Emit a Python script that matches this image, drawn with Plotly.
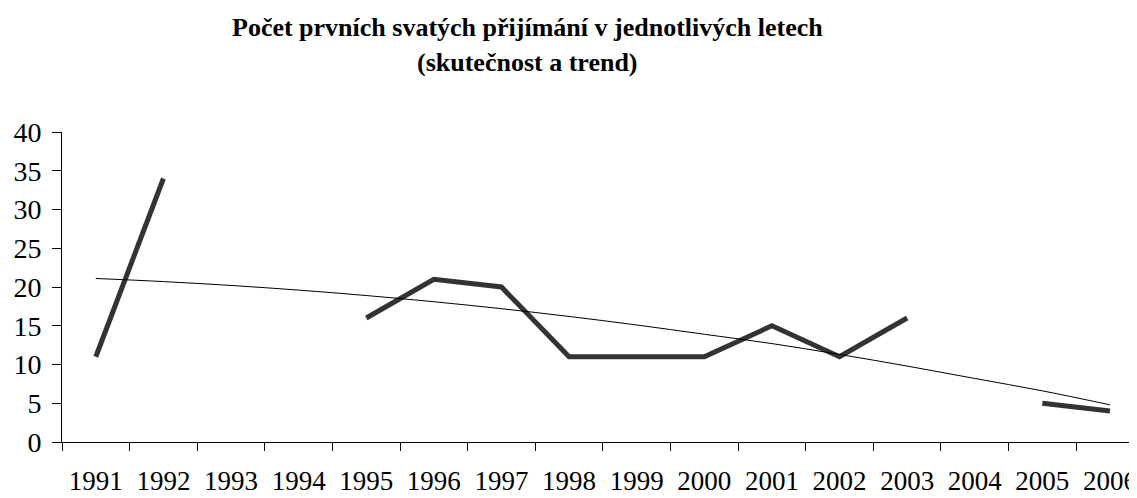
import plotly.graph_objects as go

years = ["1991", "1992", "1993", "1994", "1995", "1996", "1997", "1998",
         "1999", "2000", "2001", "2002", "2003", "2004", "2005", "2006"]
actual = [11, 34, None, None, 16, 21, 20, 11, 11, 11, 15, 11, 16, None, 5, 4]
trend = [21.1, 20.7, 20.2, 19.6, 18.9, 18.1, 17.2, 16.2, 15.1, 13.9, 12.7,
         11.3, 9.8, 8.2, 6.6, 4.8]
title_lines = ["Počet prvních svatých přijímání v jednotlivých letech",
               "(skutečnost a trend)"]

font_family = "Liberation Serif, Times New Roman, serif"

fig = go.Figure()
fig.add_trace(go.Scatter(x=years, y=actual, mode="lines", connectgaps=False,
                         line=dict(color="#333333", width=5), name="skutečnost"))
fig.add_trace(go.Scatter(x=years, y=trend, mode="lines", line_shape="spline",
                         line=dict(color="#000000", width=1), name="trend"))

for txt, yy in zip(title_lines, [1.3355, 1.2226]):
    fig.add_annotation(text="<b>" + txt + "</b>", xref="paper", yref="paper",
                       x=0.4326, y=yy, xanchor="center", yanchor="middle",
                       showarrow=False,
                       font=dict(family=font_family, size=26, color="black"))

fig.update_layout(
    width=1129, height=490,
    margin=dict(l=54, r=0, t=124, b=56),
    paper_bgcolor="white", plot_bgcolor="white",
    showlegend=False,
    font=dict(family=font_family, color="black"),
)
fig.update_xaxes(type="category", range=[-0.5, 15.4], showline=True, linecolor="black",
                 linewidth=1, ticks="outside", tickson="boundaries", ticklen=8,
                 tickcolor="black", showgrid=False, zeroline=False, automargin=False,
                 ticklabelstandoff=15,
                 tickfont=dict(family=font_family, size=27, color="black"))
fig.update_yaxes(range=[0, 40], dtick=5, showline=True, linecolor="black", linewidth=1,
                 ticks="outside", ticklen=9, tickcolor="black", showgrid=False,
                 zeroline=False, automargin=False, ticklabelstandoff=5,
                 tickfont=dict(family=font_family, size=28, color="black"))

fig.write_html("out.html")
